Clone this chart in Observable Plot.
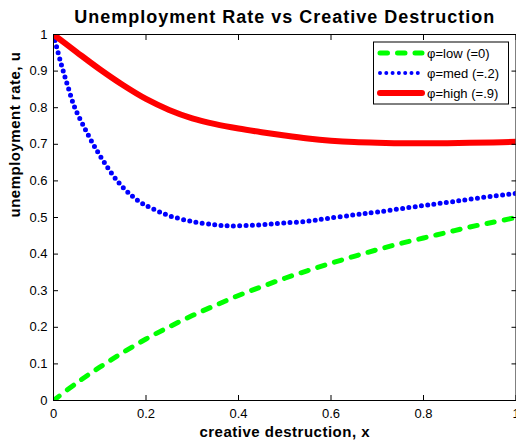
<!DOCTYPE html>
<html><head><meta charset="utf-8">
<script src="https://cdn.jsdelivr.net/npm/d3@7"></script>
<script src="https://cdn.jsdelivr.net/npm/@observablehq/plot@0.6"></script>
<style>
body{margin:0;background:#fff}
#chart svg{font-family:"Liberation Sans",Arial,sans-serif;overflow:visible}
</style>
</head><body><div id="chart"></div>
<script>
// --- data ---
const title = "Unemployment Rate vs Creative Destruction";
const xLabel = "creative destruction, x";
const yLabel = "unemployment rate, u";
const seriesNames = ["\u03c6=low (=0)", "\u03c6=med (=.2)", "\u03c6=high (=.9)"];

const xLow = [0,0.05,0.1,0.15,0.2,0.25,0.3,0.35,0.4,0.45,0.5,0.55,0.6,0.65,0.7,0.75,0.8,0.85,0.9,0.95,1];
const uLow = [0,0.048,0.091,0.131,0.168,0.201,0.232,0.26,0.287,0.311,0.334,0.355,0.375,0.394,0.412,0.429,0.444,0.459,0.474,0.487,0.5];

const xMed = [0,0.01,0.021,0.033,0.046,0.065,0.086,0.11,0.138,0.166,0.19,0.214,0.25,0.3,0.35,0.38,0.42,0.46,0.5,0.55,0.589,0.65,0.7,0.79,0.85,0.9,0.973,1];
const uMed = [1,0.95,0.9,0.85,0.8,0.75,0.7,0.65,0.6,0.563,0.54,0.524,0.505,0.489,0.48,0.477,0.478,0.481,0.485,0.49,0.497,0.507,0.515,0.531,0.541,0.55,0.562,0.566];

const xHigh = [0,0.05,0.1,0.15,0.2,0.25,0.3,0.35,0.4,0.45,0.5,0.55,0.6,0.65,0.7,0.75,0.8,0.85,0.9,0.95,1];
const uHigh = [1,0.952,0.905,0.862,0.824,0.794,0.771,0.755,0.743,0.733,0.724,0.716,0.71,0.706,0.704,0.703,0.703,0.703,0.704,0.705,0.707];

const xTicks = [0,0.2,0.4,0.6,0.8,1];
const yTicks = [0,0.1,0.2,0.3,0.4,0.5,0.6,0.7,0.8,0.9,1];
const colors = ["#00ff00", "#0000ff", "#ff0000"];

const low = xLow.map((x,i)=>({x, u:uLow[i]}));
const med = xMed.map((x,i)=>({x, u:uMed[i]}));
const high = xHigh.map((x,i)=>({x, u:uHigh[i]}));

const fmt = d => d3.format("~g")(d);
const none = () => "";

const plot = Plot.plot({
  width: 516, height: 440,
  marginLeft: 53, marginRight: 0.5, marginTop: 34, marginBottom: 40,
  style: {fontFamily: '"Liberation Sans", Arial, sans-serif', fontSize: "13px", color: "#000", background: "#fff"},
  x: {domain: [0,1]},
  y: {domain: [0,1]},
  marks: [
    Plot.line(low, {x:"x", y:"u", stroke: colors[0], strokeWidth: 5, strokeDasharray: "7.5,10", strokeLinecap: "round", curve: "catmull-rom", clip: true}),
    Plot.line(med, {x:"x", y:"u", stroke: colors[1], strokeWidth: 5, strokeDasharray: "0,6.3", strokeLinecap: "round", curve: "catmull-rom", clip: true}),
    Plot.line(high, {x:"x", y:"u", stroke: colors[2], strokeWidth: 6, curve: "catmull-rom", clip: true}),
    Plot.frame({stroke: "#000", strokeWidth: 1}),
    // tick labels
    Plot.axisX({ticks: xTicks, tickSize: 0, tickPadding: 8, tickFormat: fmt, label: null, fontSize: 13}),
    Plot.axisY({ticks: yTicks, tickSize: 0, tickPadding: 6, tickFormat: fmt, label: null, fontSize: 13}),
    // inward ticks on all four sides
    Plot.axisX({ticks: xTicks, anchor: "bottom", tickSize: 5, dy: -5, tickFormat: none, label: null, stroke: "#000"}),
    Plot.axisX({ticks: xTicks, anchor: "top", tickSize: 5, dy: 5, tickFormat: none, label: null, stroke: "#000"}),
    Plot.axisY({ticks: yTicks, anchor: "left", tickSize: 5, dx: 5, tickFormat: none, label: null, stroke: "#000"}),
    Plot.axisY({ticks: yTicks, anchor: "right", tickSize: 5, dx: -5, tickFormat: none, label: null, stroke: "#000"}),
    // title and axis labels
    Plot.text([title], {frameAnchor: "top", dy: -17.5, fontSize: 18, fontWeight: "bold", lineAnchor: "middle", fill: "#000", className: "ttl"}),
    Plot.text([xLabel], {frameAnchor: "bottom", dy: 31.5, fontSize: 15, fontWeight: "bold", lineAnchor: "middle", fill: "#000", className: "lbl"}),
    Plot.text([yLabel], {frameAnchor: "left", dx: -38, rotate: -90, fontSize: 15, fontWeight: "bold", lineAnchor: "middle", fill: "#000", className: "lbl"})
  ]
});

const svg = d3.select(plot);
svg.selectAll("g.ttl text").attr("letter-spacing", "1px");
svg.selectAll("g.lbl text").attr("letter-spacing", "0.5px");

// legend (MATLAB style box, top right)
const lg = svg.append("g").attr("font-size", 13).attr("text-anchor", "start")
  .attr("font-family", '"Liberation Sans", Arial, sans-serif');
lg.append("rect").attr("x", 373.5).attr("y", 42).attr("width", 135).attr("height", 62)
  .attr("fill", "#fff").attr("stroke", "#000").attr("stroke-width", 1);
const styles = [
  {w: 5, dash: "7.5,10", cap: "round"},
  {w: 4, dash: "0,6.3", cap: "round"},
  {w: 6, dash: null, cap: "round"}
];
seriesNames.forEach((name, i) => {
  const y = 53 + i * 20;
  const ln = lg.append("line").attr("x1", 380).attr("x2", 422).attr("y1", y).attr("y2", y)
    .attr("stroke", colors[i]).attr("stroke-width", styles[i].w).attr("stroke-linecap", styles[i].cap);
  if (styles[i].dash) ln.attr("stroke-dasharray", styles[i].dash);
  lg.append("text").attr("x", 427).attr("y", y).attr("dy", "0.35em").attr("fill", "#000").text(name);
});

document.getElementById("chart").appendChild(plot);
</script>
</body></html>
